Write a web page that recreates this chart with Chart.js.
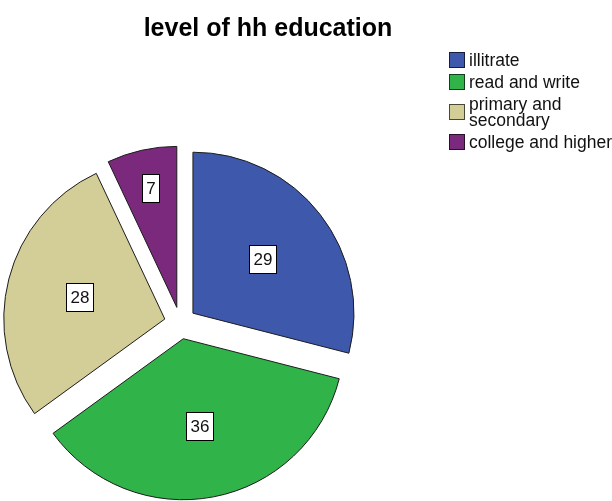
<!DOCTYPE html>
<html>
<head>
<meta charset="utf-8">
<title>level of hh education</title>
<script src="https://cdn.jsdelivr.net/npm/chart.js@4.4.1/dist/chart.umd.min.js"></script>
<style>
    html, body { margin: 0; padding: 0; background: #fff; overflow: hidden; }
    .chart-container {
        position: relative;
        width: 612px;
        height: 501px;
        font-family: "Liberation Sans", Arial, sans-serif;
    }
    .chart-title {
        position: absolute;
        left: 0;
        top: 12px;
        width: 536px;
        text-align: center;
        font-size: 25px;
        font-weight: bold;
        line-height: 30px;
        color: #000;
    }
    .canvas-box { position: absolute; left: 0; top: 0; width: 612px; height: 501px; }
    .custom-legend { position: absolute; left: 449px; top: 52px; }
    .custom-legend ul { list-style: none; margin: 0; padding: 0; }
    .custom-legend li { display: flex; align-items: center; margin-bottom: 6px; }
    .custom-legend li span {
        flex: none;
        width: 14px;
        height: 14px;
        border: 1px solid rgba(0, 0, 0, 0.65);
        margin-right: 4px;
    }
    .textcontainer { width: 145px; font-size: 17.5px; line-height: 16px; color: #111; }
</style>
</head>
<body>
<div class="chart-container">
    <div class="canvas-box"><canvas id="educationChart"></canvas></div>
    <div class="chart-title">level of hh education</div>
    <div class="custom-legend" id="educationLegend"></div>
</div>
<script>
const categories = ["illitrate", "read and write", "primary and secondary", "college and higher"];
const percentages = [29, 36, 28, 7];

const sliceColors = ["#3e58ac", "#30b44a", "#d3ce97", "#7a297d"];

// legend built as html so long labels can wrap
const htmlLegendPlugin = {
    id: "htmlLegend",
    afterUpdate(chart, args, options) {
        const container = document.getElementById(options.containerID);
        let ul = container.querySelector("ul");
        if (!ul) {
            ul = document.createElement("ul");
            container.appendChild(ul);
        }
        while (ul.firstChild) {
            ul.firstChild.remove();
        }

        const items = chart.options.plugins.legend.labels.generateLabels(chart);
        items.forEach((item) => {
            const li = document.createElement("li");
            const box = document.createElement("span");
            box.style.backgroundColor = item.fillStyle;

            const textContainer = document.createElement("div");
            textContainer.className = "textcontainer";
            textContainer.textContent = item.text;

            li.appendChild(box);
            li.appendChild(textContainer);
            ul.appendChild(li);
        });
    },
};

// pulls every slice out from the centre along its own mid angle
const explodePlugin = {
    id: "explode",
    afterDatasetUpdate(chart, args, options) {
        args.meta.data.forEach((arc) => {
            const mid = (arc.startAngle + arc.endAngle) / 2;
            arc.x += Math.cos(mid) * options.distance;
            arc.y += Math.sin(mid) * options.distance;
        });
    },
};

// value in a small white box on each slice
const valueBoxPlugin = {
    id: "valueBoxes",
    afterDatasetsDraw(chart, args, options) {
        const { ctx } = chart;
        const meta = chart.getDatasetMeta(0);
        const data = chart.data.datasets[0].data;
        const total = data.reduce((acc, val) => acc + val, 0);

        ctx.save();
        ctx.font = options.font;
        ctx.textAlign = "center";
        ctx.textBaseline = "middle";
        meta.data.forEach((arc, i) => {
            const { x, y, startAngle, endAngle, outerRadius } = arc.getProps(
                ["x", "y", "startAngle", "endAngle", "outerRadius"], true);
            const mid = (startAngle + endAngle) / 2;
            // narrow slices get their label pushed further out
            const f = data[i] / total < 0.15 ? 0.76 : 0.55;
            const cx = x + Math.cos(mid) * outerRadius * f;
            const cy = y + Math.sin(mid) * outerRadius * f;

            const text = String(data[i]);
            const w = Math.round(ctx.measureText(text).width + options.padX * 2);
            const h = options.boxHeight;
            const left = Math.round(cx - w / 2) + 0.5;
            const top = Math.round(cy - h / 2) + 0.5;

            ctx.fillStyle = "#fff";
            ctx.fillRect(left, top, w, h);
            ctx.strokeStyle = "#000";
            ctx.lineWidth = 1;
            ctx.strokeRect(left, top, w, h);
            ctx.fillStyle = "#111";
            ctx.fillText(text, left + w / 2, top + h / 2 + 1);
        });
        ctx.restore();
    },
};

const ctx = document.getElementById("educationChart").getContext("2d");

new Chart(ctx, {
    type: "pie",
    data: {
        labels: categories,
        datasets: [{
            data: percentages,
            backgroundColor: sliceColors,
            borderColor: "#1c1c1c",
            borderWidth: 1,
        }],
    },
    options: {
        responsive: true,
        maintainAspectRatio: false,
        animation: false,
        events: [],
        radius: 161,
        layout: {
            padding: { left: 10, right: 261.4, top: 153, bottom: 8 },
        },
        plugins: {
            tooltip: { enabled: false },
            legend: { display: false },
            htmlLegend: { containerID: "educationLegend" },
            explode: { distance: 16 },
            valueBoxes: { font: "17px 'Liberation Sans', Arial, sans-serif", padX: 4, boxHeight: 28 },
        },
    },
    plugins: [htmlLegendPlugin, explodePlugin, valueBoxPlugin],
});
</script>
</body>
</html>
